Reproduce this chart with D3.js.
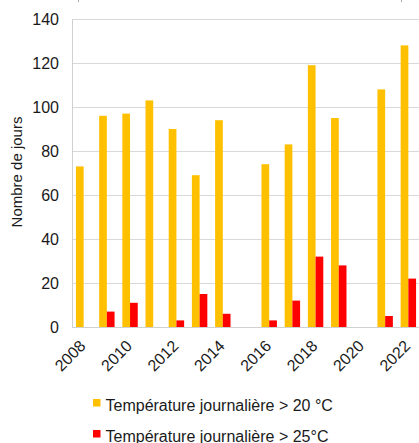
<!DOCTYPE html>
<html><head><meta charset="utf-8">
<script src="https://cdn.jsdelivr.net/npm/d3@7"></script>
<style>body{margin:0;background:#fff}svg{display:block}text{font-family:"Liberation Sans",Arial,sans-serif;fill:#1a1a1a}</style>
</head><body>
<script>
const years = ["2008","2009","2010","2011","2012","2013","2014","2015","2016","2017","2018","2019","2020","2021","2022"];
const over20 = [73,96,97,103,90,69,94,null,74,83,119,95,null,108,128];
const over25 = [null,7,11,null,3,15,6,null,3,12,32,28,null,5,22];
const yTicks = [0,20,40,60,80,100,120,140];
const xTickLabels = ["2008","2010","2012","2014","2016","2018","2020","2022"];
const seriesNames = ["Température journalière > 20 °C","Température journalière > 25°C"];
const colors = ["#FFC000","#FF0000"];

const W=419,H=443;
const svg=d3.select("body").append("svg").attr("width",W).attr("height",H);
const x=d3.scaleBand().domain(years).range([72,420]).paddingInner(0.335).paddingOuter(0.17);
const y=d3.scaleLinear().domain([0,140]).range([327,19]);
const x1=d3.scaleBand().domain([0,1]).range([0,x.bandwidth()]);

// tiny cropped marks at top
svg.append("g").selectAll("line").data([78.5,401.5]).join("line")
 .attr("x1",d=>d).attr("x2",d=>d).attr("y1",0).attr("y2",2).attr("stroke","#aaa");

// gridlines
svg.append("g").selectAll("line").data(yTicks.filter(d=>d>0)).join("line")
 .attr("x1",72).attr("x2",420).attr("y1",d=>Math.round(y(d))+0.5).attr("y2",d=>Math.round(y(d))+0.5)
 .attr("stroke","#d9d9d9").attr("stroke-width",1);

// bars
const data=years.map((yr,i)=>({yr,vals:[over20[i],over25[i]]}));
const g=svg.append("g").selectAll("g").data(data).join("g").attr("transform",d=>`translate(${x(d.yr)},0)`);
g.selectAll("rect").data(d=>d.vals.map((v,k)=>({v,k})).filter(e=>e.v!=null)).join("rect")
 .attr("x",e=>x1(e.k)).attr("width",x1.bandwidth())
 .attr("y",e=>y(e.v)).attr("height",e=>y(0)-y(e.v)).attr("fill",e=>colors[e.k]);

// axes lines
svg.append("line").attr("x1",72.5).attr("x2",72.5).attr("y1",19).attr("y2",327.5).attr("stroke","#d0d0d0");
svg.append("line").attr("x1",72).attr("x2",420).attr("y1",327.5).attr("y2",327.5).attr("stroke","#d0d0d0");

const FF="Liberation Sans, Arial, sans-serif";
// y tick labels
const ya=svg.append("g").attr("transform","translate(72,0)").call(d3.axisLeft(y).tickValues(yTicks).tickSize(0).tickPadding(13));
ya.select(".domain").remove();
ya.selectAll("text").style("font-size","16px").attr("fill","#1a1a1a").style("font-family",FF);

// x tick labels
const xa=svg.append("g").attr("transform","translate(0,327)").call(d3.axisBottom(x).tickValues(xTickLabels).tickSize(0).tickPadding(0));
xa.select(".domain").remove();
xa.selectAll("text").style("font-size","16px").attr("fill","#1a1a1a").style("font-family",FF)
 .attr("text-anchor","end").attr("dy",0).attr("y",0)
 .attr("transform","translate(3,20) rotate(-45)");

// y title
svg.append("text").attr("transform","translate(22,172) rotate(-90)").attr("text-anchor","middle")
 .style("font-size","15px").text("Nombre de jours");

// legend
const lg=svg.append("g").selectAll("g").data(seriesNames).join("g").attr("transform",(d,i)=>`translate(93,${399+i*31})`);
lg.append("rect").attr("width",7.5).attr("height",7.5).attr("fill",(d,i)=>colors[i]);
lg.append("text").attr("x",12.5).attr("y",12).style("font-size","16px").text(d=>d);
</script>
</body></html>
